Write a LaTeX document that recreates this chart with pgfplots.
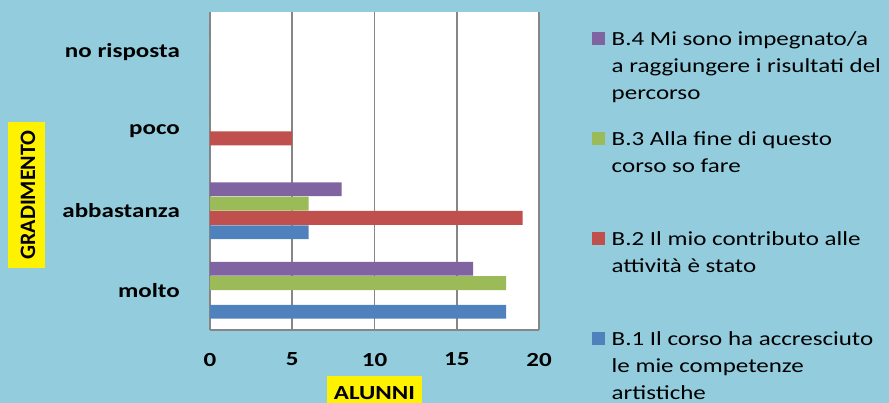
\documentclass[border=0pt]{standalone}
\usepackage{fontspec}
\setmainfont{Carlito}[FakeStretch=1.25]
\newfontfamily\gradfont{Carlito}
\usepackage{pgfplots}
\pgfplotsset{compat=1.18}
\definecolor{bg}{HTML}{93CDDD}
\definecolor{bone}{HTML}{4F81BD}
\definecolor{btwo}{HTML}{C0504D}
\definecolor{bthree}{HTML}{9BBB59}
\definecolor{bfour}{HTML}{8064A2}
\definecolor{gridgray}{HTML}{868686}
\pgfplotsset{sqlegend/.style={legend image code/.code={\fill[##1] (0pt,30pt) rectangle (13pt,43pt);}}}
\begin{document}
\begin{tikzpicture}
\fill[bg] (0,0) rectangle (889pt,403pt);
\begin{axis}[
  at={(210pt,73pt)}, anchor=south west,
  width=329pt, height=318pt, scale only axis,
  xmin=0, xmax=20, ymin=-0.5, ymax=3.5,
  xtick={0,5,10,15,20},
  ytick={0,1,2,3},
  yticklabels={molto,abbastanza,poco,no risposta},
  major tick length=0pt,
  axis lines*=left,
  axis line style={draw=gridgray, line width=1.5pt},
  xmajorgrids,
  major grid style={draw=gridgray, line width=1.5pt},
  axis background/.style={fill=white},
  /pgf/number format/assume math mode=true,
  tick label style={font=\bfseries\fontsize{20}{24}\selectfont, inner sep=0pt},
  xticklabel style={yshift=-22.7pt},
  yticklabel style={xshift=-30pt},
  xlabel={ALUNNI},
  xlabel style={at={(axis description cs:0.5,-0.2189)}, anchor=base, fill=yellow,
    inner xsep=6.5pt, inner ysep=5.6pt, text height=18pt, text depth=5pt,
    font=\bfseries\fontsize{20}{24}\selectfont},
  ylabel={GRADIMENTO},
  ylabel style={at={(axis description cs:-0.5319,0.4245)}, anchor=base, fill=yellow,
    inner xsep=8pt, inner ysep=5pt, text height=22pt, text depth=5pt,
    font=\gradfont\bfseries\fontsize{22}{26}\selectfont},
  reverse legend,
  legend style={draw=none, fill=none, inner sep=0pt, outer sep=0pt,
    at={(1.1611,0.9591)}, anchor=north west,
    column sep=6.7pt, row sep=0pt,
    nodes={inner sep=0pt, outer sep=0pt, text depth=},
    font=\fontsize{20}{27}\selectfont},
]
\addplot[xbar, fill=bone, draw=none, bar width=0.175, bar shift=-0.27, sqlegend]
  coordinates {(18,0) (6,1) (0,2) (0,3)};
\addlegendentry{\raisebox{30pt}[50pt][50pt]{\parbox[t]{290pt}{\raggedright B.1 Il corso ha accresciuto\\le mie competenze\\artistiche}}}
\addplot[xbar, fill=btwo, draw=none, bar width=0.175, bar shift=-0.09, sqlegend]
  coordinates {(0,0) (19,1) (5,2) (0,3)};
\addlegendentry{\raisebox{30pt}[50pt][50pt]{\parbox[t]{290pt}{\raggedright B.2 Il mio contributo alle\\attività è stato}}}
\addplot[xbar, fill=bthree, draw=none, bar width=0.175, bar shift=0.09, sqlegend]
  coordinates {(18,0) (6,1) (0,2) (0,3)};
\addlegendentry{\raisebox{30pt}[50pt][50pt]{\parbox[t]{290pt}{\raggedright B.3 Alla fine di questo\\corso so fare}}}
\addplot[xbar, fill=bfour, draw=none, bar width=0.175, bar shift=0.27, sqlegend]
  coordinates {(16,0) (8,1) (0,2) (0,3)};
\addlegendentry{\raisebox{30pt}[50pt][50pt]{\parbox[t]{290pt}{\raggedright B.4 Mi sono impegnato/a\\a raggiungere i risultati del\\percorso}}}
\end{axis}
\pgfresetboundingbox
\useasboundingbox (0,0) rectangle (889pt,403pt);
\end{tikzpicture}
\end{document}
